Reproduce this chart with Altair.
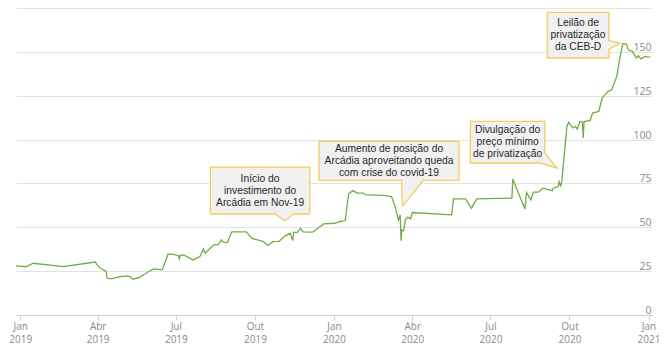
import json
import altair as alt
import pandas as pd

# ---- price series ----
dates = [
    "2018-12-27", "2019-01-08", "2019-01-16", "2019-02-20", "2019-03-29", "2019-04-04",
    "2019-04-08", "2019-04-11", "2019-04-12", "2019-04-17", "2019-04-27", "2019-05-05",
    "2019-05-09", "2019-05-12", "2019-05-20", "2019-05-28", "2019-06-05", "2019-06-15",
    "2019-06-22", "2019-06-28", "2019-07-04", "2019-07-05", "2019-07-06", "2019-07-10",
    "2019-07-21", "2019-07-29", "2019-08-02", "2019-08-04", "2019-08-14", "2019-08-19",
    "2019-08-23", "2019-08-25", "2019-08-30", "2019-09-04", "2019-09-21", "2019-09-27",
    "2019-10-11", "2019-10-16", "2019-10-22", "2019-10-29", "2019-11-05", "2019-11-11",
    "2019-11-14", "2019-11-15", "2019-11-19", "2019-11-23", "2019-11-26", "2019-12-07",
    "2019-12-20", "2020-01-02", "2020-01-08", "2020-01-14", "2020-01-18", "2020-01-23",
    "2020-01-28", "2020-02-04", "2020-02-07", "2020-02-27", "2020-03-08", "2020-03-12",
    "2020-03-16", "2020-03-18", "2020-03-19", "2020-03-20", "2020-03-22", "2020-03-24",
    "2020-03-27", "2020-03-30", "2020-04-01", "2020-05-17", "2020-05-19", "2020-06-02",
    "2020-06-09", "2020-06-15", "2020-07-26", "2020-07-27", "2020-08-10", "2020-08-12",
    "2020-08-17", "2020-08-20", "2020-08-26", "2020-08-31", "2020-09-11", "2020-09-12",
    "2020-09-18", "2020-09-19", "2020-09-21", "2020-09-22", "2020-09-28", "2020-09-30",
    "2020-10-05", "2020-10-08", "2020-10-10", "2020-10-13", "2020-10-16", "2020-10-17",
    "2020-10-18", "2020-10-25", "2020-10-28", "2020-11-04", "2020-11-08", "2020-11-13",
    "2020-11-15", "2020-11-19", "2020-11-25", "2020-11-29", "2020-12-02", "2020-12-06",
    "2020-12-09", "2020-12-13", "2020-12-18", "2020-12-20", "2020-12-23", "2020-12-28",
    "2021-01-01", "2021-01-03",
]
prices = [
    28.0, 27.5, 29.5, 27.6, 30.2, 26.6,
    25.7, 24.7, 21.0, 20.6, 21.9, 22.3,
    21.8, 20.4, 21.5, 24.1, 26.3, 25.7,
    34.8, 34.5, 33.8, 32.0, 34.0, 34.2,
    31.4, 33.3, 37.7, 35.2, 40.0, 40.0,
    42.8, 41.5, 41.3, 47.4, 47.4, 43.8,
    41.8, 39.6, 41.8, 42.0, 45.0, 46.6,
    42.4, 47.2, 47.0, 49.5, 47.4, 47.2,
    51.9, 52.3, 53.3, 53.7, 69.0, 70.9,
    69.5, 69.5, 68.5, 68.2, 67.5, 61.8,
    54.2, 57.0, 42.4, 48.5, 48.0, 54.2,
    55.8, 54.8, 58.4, 57.1, 66.2, 66.2,
    60.9, 66.2, 66.6, 77.5, 60.5, 69.8,
    65.6, 70.0, 70.0, 72.3, 70.9, 72.3,
    73.2, 76.0, 73.6, 76.0, 107.5, 109.8,
    106.6, 107.5, 106.0, 110.3, 110.0, 100.9,
    110.3, 110.9, 115.1, 116.0, 123.7, 126.5,
    127.5, 128.4, 136.0, 147.4, 154.7, 154.5,
    150.9, 150.3, 146.5, 147.8, 146.0, 147.4,
    147.0, 147.2,
]

# ---- axis labels ----
month_names = ["Jan", "Fev", "Mar", "Abr", "Mai", "Jun", "Jul", "Ago", "Set", "Out", "Nov", "Dez"]
x_tick_dates = ["2019-01-01", "2019-04-01", "2019-07-01", "2019-10-01", "2020-01-01",
                "2020-04-01", "2020-07-01", "2020-10-01", "2021-01-01"]
y_ticks = [0, 25, 50, 75, 100, 125, 150, 175]
x_domain = ["2018-12-27", "2021-01-05"]

# ---- callouts (text, anchor date, anchor value, callout outline) ----
note_texts = [
    "Início do\ninvestimento do\nArcádia em Nov-19",
    "Aumento de posição do\nArcádia aproveitando queda\ncom crise do covid-19",
    "Divulgação do\npreço mínimo\nde privatização",
    "Leilão de\nprivatização\nda CEB-D",
]
note_dates = ["2019-10-07", "2020-03-05", "2020-07-21", "2020-10-11"]
note_values = [70.9, 87.8, 98.5, 159.5]
note_shapes = [
    "M -49.7 -23.4 L 49.7 -23.4 L 49.7 23.4 L 33.6 23.4 L 24.6 30.3 L 15.3 23.4 L -49.7 23.4 Z",
    "M -69.9 -19.5 L 69.9 -19.5 L 69.9 19.5 L 34.1 19.5 L 13.5 45.1 L 12.5 19.5 L -69.9 19.5 Z",
    "M -37.2 -20.8 L 37.2 -20.8 L 37.2 10.8 L 49.5 25.8 L 32.8 20.8 L -37.2 20.8 Z",
    "M -30.8 -22.8 L 30.8 -22.8 L 30.8 5.2 L 42.2 8.1 L 30.8 14 L 30.8 22.8 L -30.8 22.8 Z",
]


def dt(s):
    y, m, d = (int(p) for p in s.split("-"))
    return alt.DateTime(year=y, month=m, date=d)


df = pd.DataFrame({"date": pd.to_datetime(dates), "price": prices})
notes = pd.DataFrame({
    "date": pd.to_datetime(note_dates),
    "value": note_values,
    "text": note_texts,
    "shape": note_shapes,
})

label_font = "Open Sans"
label_color = "#8a8a8a"

x_scale = alt.Scale(domain=[dt(x_domain[0]), dt(x_domain[1])])
y_scale = alt.Scale(domain=[0, 175], nice=False, zero=True)

month_expr = json.dumps(month_names)
x_axis = alt.Axis(
    values=[dt(s) for s in x_tick_dates],
    labelExpr=f"[{month_expr}[month(datum.value)], '' + year(datum.value)]",
    title=None,
    grid=False,
    domainColor="#d2d2d2",
    tickColor="#d2d2d2",
    tickSize=5,
    labelPadding=1,
    labelFont=label_font,
    labelFontSize=10,
    labelColor=label_color,
    labelLineHeight=13.5,
    labelBaseline="top",
    labelOverlap=False,
    labelFlush=False,
    labelBound=False,
)
y_axis = alt.Axis(
    orient="right",
    values=y_ticks,
    labelExpr="datum.value == 175 ? '' : datum.label",
    title=None,
    grid=True,
    gridColor="#e3e3e3",
    domain=False,
    ticks=False,
    labelAlign="right",
    labelBaseline="alphabetic",
    labelPadding=-1,
    labelOffset=-1.5,
    labelFont=label_font,
    labelFontSize=10.5,
    labelColor=label_color,
)

line = alt.Chart(df).mark_line(color="#70ad47", strokeWidth=1.3).encode(
    x=alt.X("date:T", scale=x_scale, axis=x_axis),
    y=alt.Y("price:Q", scale=y_scale, axis=y_axis),
)

boxes = alt.Chart(notes).mark_point(
    filled=True, fill="#f1f1f1", stroke="#f3cd5e", strokeWidth=1.3, opacity=1
).encode(
    x=alt.X("date:T", scale=x_scale),
    y=alt.Y("value:Q", scale=y_scale),
    shape=alt.Shape("shape:N", scale=None, legend=None),
    size=alt.value(4),
)

labels = alt.Chart(notes).mark_text(
    lineBreak="\n", align="center", baseline="middle", dy=-12,
    font="Liberation Sans", fontSize=10.3, lineHeight=12, color="#262626",
).encode(
    x=alt.X("date:T", scale=x_scale),
    y=alt.Y("value:Q", scale=y_scale),
    text="text:N",
)

chart = (
    alt.layer(line, boxes, labels)
    .properties(
        width=636,
        height=307,
        autosize=alt.AutoSizeParams(type="none"),
        padding={"left": 16, "top": 8, "right": 13, "bottom": 37},
        background="white",
    )
    .configure_view(stroke=None)
)

chart.save("out.html", embed_options={"renderer": "svg", "actions": False})
